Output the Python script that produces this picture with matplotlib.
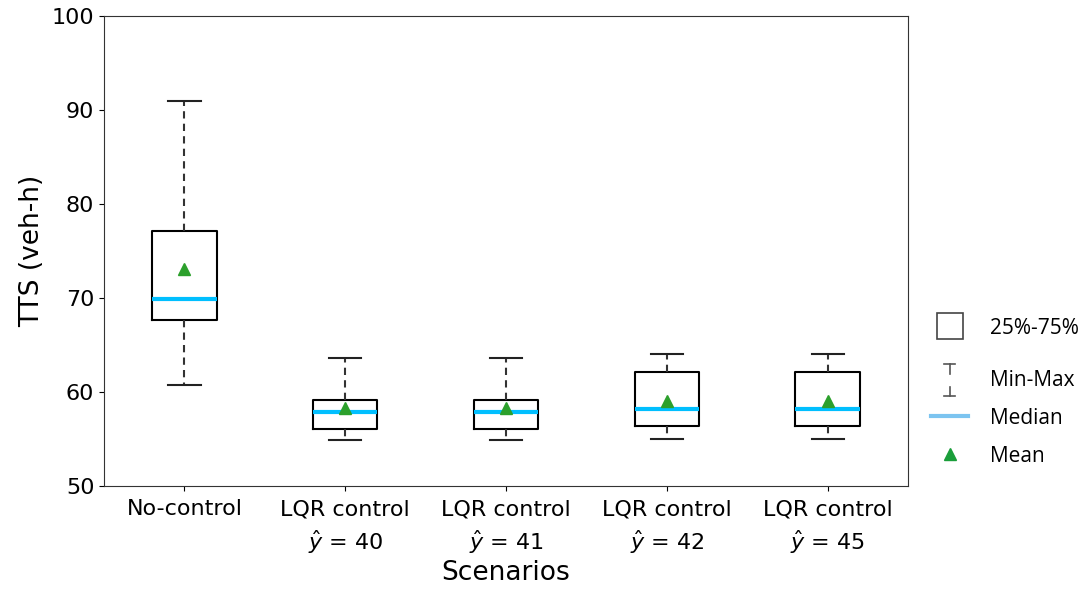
import matplotlib
matplotlib.use("Agg")
import matplotlib.pyplot as plt
from matplotlib.lines import Line2D
from matplotlib.legend_handler import HandlerBase

plt.rcParams['font.family'] = ['DejaVu Sans']

scenarios = ["No-control", "LQR control\n$\\hat{y}$ = 40", "LQR control\n$\\hat{y}$ = 41",
             "LQR control\n$\\hat{y}$ = 42", "LQR control\n$\\hat{y}$ = 45"]
tts_min = [60.7, 54.9, 54.9, 55.0, 55.0]
tts_q1 = [67.6, 56.1, 56.1, 56.4, 56.4]
tts_med = [69.9, 57.9, 57.9, 58.2, 58.2]
tts_q3 = [77.1, 59.1, 59.1, 62.1, 62.1]
tts_max = [90.9, 63.6, 63.6, 64.0, 64.0]
tts_mean = [73.1, 58.3, 58.3, 59.0, 59.0]

stats = []
for i in range(len(scenarios)):
    stats.append(dict(whislo=tts_min[i], q1=tts_q1[i], med=tts_med[i], q3=tts_q3[i],
                      whishi=tts_max[i], mean=tts_mean[i], fliers=[]))

fig = plt.figure(figsize=(10.85, 5.89), dpi=100)
ax = fig.add_axes([0.0959, 0.175, 0.741, 0.798])

ax.bxp(stats, positions=range(1, len(scenarios) + 1), widths=0.4, showmeans=True,
       boxprops=dict(color='black', linewidth=1.5),
       whiskerprops=dict(color='#333333', linewidth=1.5, linestyle=(0, (3.5, 2.5))),
       capprops=dict(color='#222222', linewidth=1.5),
       medianprops=dict(color='#00bfff', linewidth=3),
       meanprops=dict(marker='^', markerfacecolor='#2ca02c', markeredgecolor='#2ca02c', markersize=9))

ax.set_ylim(50, 100)
ax.set_xlim(0.5, 5.5)
ax.set_xticks(range(1, len(scenarios) + 1))
ax.set_xticklabels(scenarios, fontsize=16)
for lab in ax.get_xticklabels():
    lab.set_linespacing(1.4)
ax.tick_params(axis='x', pad=6)
ax.tick_params(axis='y', labelsize=16)
ax.set_ylabel("TTS (veh-h)", fontsize=19, labelpad=5)
ax.set_xlabel("Scenarios", fontsize=19, labelpad=3)
for s in ax.spines.values():
    s.set_color('#333333')


class MinMaxHandler(HandlerBase):
    # whisker symbol: two caps with short stems
    def create_artists(self, legend, orig_handle, xd, yd, w, h, fontsize, trans):
        cx = -xd + w / 2
        cy = (h - yd) / 2 - 1.5
        c = '#555555'
        top = cy + 11.5
        bot = cy - 11.5
        arts = [Line2D([cx - 4, cx + 4], [top, top], color=c, lw=1.2),
                Line2D([cx - 4, cx + 4], [bot, bot], color=c, lw=1.2),
                Line2D([cx, cx], [top, top - 7], color=c, lw=1.2),
                Line2D([cx, cx], [bot, bot + 7], color=c, lw=1.2)]
        for a in arts:
            a.set_transform(trans)
        return arts


h_box = Line2D([], [], marker='s', linestyle='none', markersize=19, markerfacecolor='white',
               markeredgecolor='#444444', markeredgewidth=1.2)
h_minmax = object()
h_med = Line2D([], [], color='#7cc4f0', linewidth=3)
h_mean = Line2D([], [], marker='^', linestyle='none', markersize=8, color='#1a9e3a')

leg_kw = dict(loc='center left', frameon=False, handlelength=1.8, handletextpad=1.02,
              prop={'family': 'Open Sans', 'size': 15})
leg1 = fig.legend([h_box], ["25%-75%"], bbox_to_anchor=(0.8406, 0.443), **leg_kw)
fig.legend([h_minmax, h_med, h_mean], ["Min-Max", "Median", "Mean"],
           handler_map={object: MinMaxHandler()}, bbox_to_anchor=(0.8406, 0.290),
           labelspacing=0.82, **leg_kw)

fig.savefig("out.png", dpi=100)
